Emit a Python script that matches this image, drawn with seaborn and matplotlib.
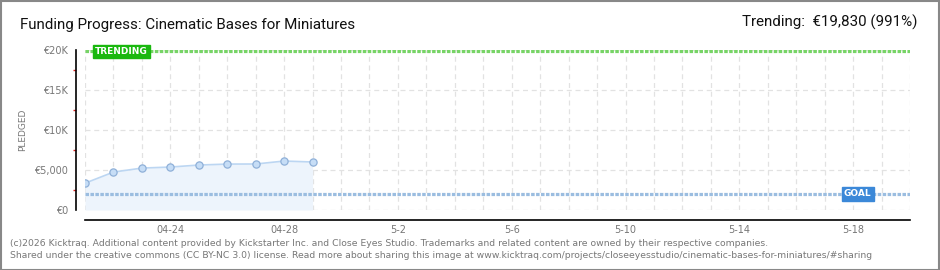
import matplotlib
matplotlib.use("Agg")
import matplotlib.pyplot as plt
import matplotlib.patches as mpatches
import seaborn as sns
import pandas as pd
import numpy as np

# ---- data ----
days = ["04-21", "04-22", "04-23", "04-24", "04-25", "04-26", "04-27", "04-28", "04-29"]
pledged = [3350, 4740, 5240, 5370, 5620, 5740, 5750, 6120, 6000]
all_days = (["04-%02d" % d for d in range(21, 31)] +
            ["05-%02d" % d for d in range(1, 21)])
tick_labels_shown = {"04-24": "04-24", "04-28": "04-28", "05-02": "5-2", "05-06": "5-6",
                     "05-10": "5-10", "05-14": "5-14", "05-18": "5-18"}
goal = 2000
trending = 19830
y_ticks = [0, 5000, 10000, 15000, 20000]
y_tick_labels = ["€0", "€5,000", "€10K", "€15K", "€20K"]
title = "Funding Progress: Cinematic Bases for Miniatures"
trend_text = "Trending:  €19,830 (991%)"
footer1 = ("(c)2026 Kicktraq. Additional content provided by Kickstarter Inc. and Close Eyes Studio. "
           "Trademarks and related content are owned by their respective companies.")
footer2 = ("Shared under the creative commons (CC BY-NC 3.0) license. Read more about sharing this image at "
           "www.kicktraq.com/projects/closeeyesstudio/cinematic-bases-for-miniatures/#sharing")

sns.set_theme(style="white")
plt.rcParams['font.family'] = ['DejaVu Sans']

W, H = 940, 270
PX = 72 / 100  # points per pixel
fig = plt.figure(figsize=(W / 100, H / 100), dpi=100)
fig.patch.set_facecolor("white")
ax = fig.add_axes([85 / W, (H - 210) / H, 825 / W, 160 / H])

df = pd.DataFrame({"x": [all_days.index(d) for d in days], "pledged": pledged})

# grid
for i in range(len(all_days)):
    ax.axvline(i, color="#e2e2e2", lw=0.9, ls=(0, (4, 3)), zorder=0)
for yv in y_ticks:
    ax.axhline(yv, color="#e2e2e2", lw=0.9, ls=(0, (4, 3)), zorder=0)

ax.fill_between(df["x"], df["pledged"], 0, color="#edf4fc", zorder=1, lw=0)
sns.lineplot(data=df, x="x", y="pledged", ax=ax, color="#bcd6f2", lw=1.2,
             marker="o", markersize=5.2, markerfacecolor="#c6ddf6",
             markeredgecolor="#8fb0d8", markeredgewidth=0.9, zorder=3)

# goal / trending lines
ax.axhline(goal, color="#9bbde0", lw=2.3, ls=(0, (1.1, 0.45)), zorder=2)
ax.axhline(trending, color="#77d466", lw=2.3, ls=(0, (1.1, 0.45)), zorder=2)

ax.text(0.35, trending, "TRENDING", color="white", fontsize=6.5, fontweight="bold",
        va="center", ha="left", zorder=5,
        bbox=dict(boxstyle="square,pad=0.25", fc="#1ab80f", ec="#1ab80f"))
ax.text(27.65, goal, "GOAL", color="white", fontsize=6.5, fontweight="bold",
        va="center", ha="right", zorder=5,
        bbox=dict(boxstyle="square,pad=0.25", fc="#3b88d8", ec="#3b88d8"))

ax.set_xlim(0, len(all_days) - 1)
ax.set_ylim(0, 20000)

# spines
for s in ["top", "right"]:
    ax.spines[s].set_visible(False)
ax.spines["left"].set_position(("outward", 9 * PX))
ax.spines["bottom"].set_position(("outward", 10 * PX))
for s in ["left", "bottom"]:
    ax.spines[s].set_color("black")
    ax.spines[s].set_linewidth(1.2)

ax.set_xticks(range(len(all_days)))
ax.set_xticklabels([tick_labels_shown.get(d, "") for d in all_days])
ax.tick_params(axis="x", direction="inout", length=7 * PX, width=1, color="black",
               labelsize=7, labelcolor="#777777", pad=1)
ax.set_yticks(y_ticks)
ax.set_yticklabels(y_tick_labels)
ax.set_yticks([2500, 7500, 12500, 17500], minor=True)
ax.tick_params(axis="y", which="major", direction="out", length=4 * PX, width=1, color="black",
               labelsize=7, labelcolor="#777777", pad=3)
ax.tick_params(axis="y", which="minor", direction="out", length=3 * PX, width=1, color="#e02020",
               left=True)
ax.set_xlabel("")
ax.set_ylabel("PLEDGED", fontsize=6.5, color="#777777")
ax.yaxis.set_label_coords(-58 / 825, 0.5)

# titles and footer
fig.text(20 / W, 1 - 25 / H, title, fontsize=10.9, color="#111111", va="center", ha="left",
         family=["Roboto", "DejaVu Sans"])
fig.text(918 / W, 1 - 22 / H, trend_text, fontsize=10.9, color="#111111", va="center", ha="right",
         family=["Roboto", "DejaVu Sans"])
fig.text(10 / W, 1 - 243 / H, footer1, fontsize=6.65, color="#777777", va="center", ha="left")
fig.text(10 / W, 1 - 255 / H, footer2, fontsize=6.65, color="#777777", va="center", ha="left")

fig.patches.append(mpatches.Rectangle((0.5 / W, 0.5 / H), 1 - 1.5 / W, 1 - 1.5 / H,
                                      transform=fig.transFigure, fill=False,
                                      ec="#888888", lw=1.5))

fig.savefig("out.png", dpi=100, facecolor="white")
